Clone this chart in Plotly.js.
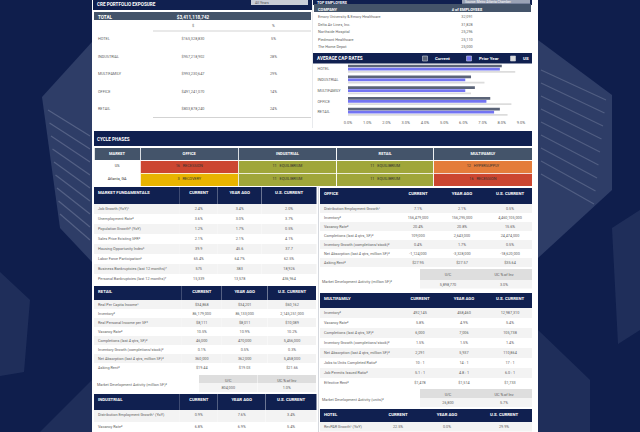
<!DOCTYPE html>
<html><head><meta charset="utf-8">
<script src="https://cdn.plot.ly/plotly-3.0.1.min.js"></script>
<style>
html,body{margin:0;padding:0;background:#0f1e4c;overflow:hidden;}
#wrap{width:640px;height:432px;overflow:hidden;position:relative;}
#c{width:1280px;height:864px;transform:scale(0.5);transform-origin:0 0;}
#err{position:absolute;left:0;top:200px;color:red;font:12px monospace;z-index:9;}
</style>
</head><body><div id="wrap"><div id="c"></div></div><div id="err"></div><script>
window.onerror=function(m){document.getElementById('err').textContent+=' ERR: '+m;};
// ---------- DATA ----------
const capCategories = ["HOTEL","INDUSTRIAL","MULTIFAMILY","OFFICE","RETAIL"];
const capSeriesNames = ["Current","Prior Year","US"];
const capCurrent   = [8.0, 6.4, 6.6, 7.4, 7.9];
const capPriorYear = [7.9, 6.1, 6.1, 7.2, 7.6];
const capUS        = [8.7, 7.1, 6.4, 8.5, 8.3];
const capTicks     = [0,1,2,3,4,5,6,7,8,9];
const capTickLabels= ["0.0%","1.0%","2.0%","3.0%","4.0%","5.0%","6.0%","7.0%","8.0%","9.0%"];

const exposureTotal   = "$3,411,118,742";
const exposureTypes   = ["HOTEL","INDUSTRIAL","MULTIFAMILY","OFFICE","RETAIL"];
const exposureDollars = ["$165,328,830","$957,218,902","$993,230,647","$491,241,070","$803,878,240"];
const exposurePct     = ["5%","28%","29%","14%","24%"];

const employerNames = ["Emory University & Emory Healthcare","Delta Air Lines, Inc.","Northside Hospital","Piedmont Healthcare","The Home Depot"];
const employerCounts = ["32,091","31,828","25,296","25,110","25,000"];

const cycleColumns = ["MARKET","OFFICE","INDUSTRIAL","RETAIL","MULTIFAMILY"];
const cycleMarkets = ["US","Atlanta, GA"];
const cycleOffice = ["16   RECESSION","3   RECOVERY"];
const cycleIndustrial = ["11   EQUILIBRIUM","11   EQUILIBRIUM"];
const cycleRetail = ["11   EQUILIBRIUM","11   EQUILIBRIUM"];
const cycleMultifamily = ["12   HYPERSUPPLY","16   RECESSION"];

const valueHeads = ["CURRENT","YEAR AGO","U.S. CURRENT"];

const mfLabels = ["Job Growth (YoY)¹","Unemployment Rate²","Population Growth³ (YoY)","Sales Price Existing SFR⁴","Housing Opportunity Index⁵","Labor Force Participation⁶","Business Bankruptcies (last 12 months)⁷","Personal Bankruptcies (last 12 months)⁷"];
const mfCurrent = ["2.4%","3.6%","1.2%","2.1%","39.9","65.4%","575","15,339"];
const mfYearAgo = ["3.4%","3.0%","1.7%","2.1%","45.6","64.7%","383","13,578"];
const mfUS      = ["2.0%","3.7%","0.5%","4.1%","37.7","62.5%","18,926","436,964"];

const retailLabels = ["Real Per Capita Income¹","Inventory²","Real Personal Income per SF³","Vacancy Rate²","Completions (last 4 qtrs, SF)²","Inventory Growth (completions/stock)²","Net Absorption (last 4 qtrs, million SF)²","Asking Rent²"];
const retailCurrent = ["$34,868","86,179,000","$8,111","10.5%","46,000","0.1%","360,000","$19.44"];
const retailYearAgo = ["$34,201","86,133,000","$8,011","10.9%","470,000","0.5%","362,000","$19.03"];
const retailUS      = ["$60,162","2,145,251,000","$10,089","10.2%","5,456,000","0.3%","5,458,000","$21.66"];
const retailMDA = ["804,000","1.0%"];

const indLabels = ["Distribution Employment Growth¹ (YoY)","Vacancy Rate²"];
const indCurrent = ["0.9%","6.8%"];
const indYearAgo = ["7.6%","6.9%"];
const indUS = ["3.4%","5.4%"];

const offLabels = ["Distribution Employment Growth¹","Inventory²","Vacancy Rate²","Completions (last 4 qtrs, SF)²","Inventory Growth (completions/stock)²","Net Absorption (last 4 qtrs, million SF)²","Asking Rent²"];
const offCurrent = ["7.1%","156,479,000","20.4%","109,000","0.4%","-1,124,000","$27.95"];
const offYearAgo = ["2.1%","156,295,000","20.8%","2,643,000","1.7%","-3,328,000","$27.57"];
const offUS      = ["0.5%","4,460,105,000","15.6%","24,474,000","0.5%","-18,620,000","$35.64"];
const offMDA = ["5,898,770","3.0%"];

const mfamLabels = ["Inventory²","Vacancy Rate²","Completions (last 4 qtrs, SF)²","Inventory Growth (completions/stock)²","Net Absorption (last 4 qtrs, million SF)²","Jobs to Units Completed Ratio²","Job Permits Issued Ratio²","Effective Rent²"];
const mfamCurrent = ["492,145","5.8%","6,000","1.5%","2,291","10 : 1","5.1 : 1","$1,478"];
const mfamYearAgo = ["458,460","4.9%","7,006","1.5%","5,937","14 : 1","4.8 : 1","$1,514"];
const mfamUS      = ["12,987,310","5.4%","105,738","1.4%","110,864","17 : 1","6.0 : 1","$1,733"];
const mfamMDA = ["26,800","5.7%"];

const hotelLabels = ["RevPAR Growth¹ (YoY)"];
const hotelCurrent = ["22.5%"];
const hotelYearAgo = ["0.0%"];
const hotelUS = ["29.9%"];

const mdaHeads = ["U/C","UC % of Inv"];

// ---------- HELPERS ----------
const S=2, W=640, H=432;
const F='Roboto, "Open Sans", sans-serif';
const NAVY='#102050', SLATE='#44546a', TXT='#5f5f5f', BG='#0f1e4c';
const X=p=>p/W, Y=p=>Math.max(0,Math.min(1,1-p/H));
const dom=(x0,x1,y0,y1)=>({x:[X(x0),X(x1)],y:[Y(y1),Y(y0)]});
const alt=n=>Array.from({length:n},(_,i)=>i%2?'#ffffff':'#f3f3f3');
const nb=s=>String(s).replace(/ /g,'\u00a0');

function table(x0,x1,y0,y1,o){
  return {type:'table',domain:dom(x0,x1,y0,y1),columnwidth:o.cw,
    header:{values:o.hv.map(nb),height:o.hh*S,fill:{color:o.hfill},
      line:{color:o.hline||'rgba(0,0,0,0)',width:(o.hlw||0)*S},align:o.halign,
      font:{family:F,size:(o.hfs||4.3)*S,color:o.hfc||'#ffffff',weight:o.hw||'bold'}},
    cells:{values:o.cv.map(c=>c.map(nb)),height:o.ch*S,fill:{color:o.cfill||'#ffffff'},
      line:{color:o.cline||'rgba(0,0,0,0)',width:(o.clw||0)*S},align:o.calign,
      font:{family:F,size:(o.cfs||3.8)*S,color:o.cfc||TXT}}};
}
function dataTable(x0,x1,y0,y1,title,labels,c1,c2,c3,cw,hh,ch){
  const f=alt(labels.length);
  return table(x0,x1,y0,y1,{cw:cw,hv:[title].concat(valueHeads),hh:hh,hfill:NAVY,
    halign:['left','center','center','center'],hfs:4.3,
    cv:[labels,c1,c2,c3],ch:ch,cfill:[f,f,f,f],calign:['left','center','center','center']});
}
function mdaTable(x0,x1,y0,y1,vals,hh,ch){
  return table(x0,x1,y0,y1,{cw:[1,1],hv:mdaHeads,hh:hh,hfill:'#dedede',hfc:'#555',hfs:3.8,hw:'normal',
    halign:['center','center'],cv:[[vals[0]],[vals[1]]],ch:ch,cfill:['#f4f4f4','#f4f4f4'],
    calign:['center','center'],cfs:3.8});
}

const traces=[];
// exposure
traces.push(table(94,311,11.5,21,{cw:[56,86,75],hv:['TOTAL',exposureTotal,''],hh:8.5,hfill:SLATE,
  halign:['left','center','center'],hfs:4.6,cv:[[''],[''],['']],ch:1,cfill:'rgba(0,0,0,0)',calign:['left','center','center']}));
traces.push(table(94,311,20.5,122,{cw:[56,86,75],hv:['','$','%'],hh:13,hfill:'rgba(0,0,0,0)',hfc:TXT,hfs:3.8,hw:'normal',
  halign:['left','center','center'],cv:[exposureTypes,exposureDollars,exposurePct],ch:17.5,cfill:'rgba(0,0,0,0)',
  calign:['left','center','center']}));
// employers (first row on its own table so its taller markup row cannot push the others)
traces.push(table(314,531,4,19,{cw:[128,50,39],hv:['COMPANY','# of EMPLOYEES',''],hh:7.5,hfill:SLATE,hfs:4,
  halign:['left','center','center'],cv:[[employerNames[0]],[employerCounts[0]],['']],ch:7.5,
  calign:['left','center','center']}));
traces.push(table(314,531,19,50,{cw:[128,50,39],hv:[employerNames[1],employerCounts[1],''],hh:7.5,hfill:'#ffffff',
  hfc:TXT,hfs:3.8,hw:'normal',halign:['left','center','center'],
  cv:[employerNames.slice(2),employerCounts.slice(2),employerNames.slice(2).map(()=>'')],ch:7.5,
  calign:['left','center','center']}));
// cycle phases
const RED='#cc4630',OLV='#a0a63a',ORG='#e47c3a',YEL='#e8b400';
traces.push(table(94,532,147.5,187,{cw:[46,98,98,97,98],hv:cycleColumns,hh:12.5,hfill:SLATE,hline:'#ffffff',hlw:0.8,
  halign:'center',hfs:4,cv:[cycleMarkets,cycleOffice,cycleIndustrial,cycleRetail,cycleMultifamily],ch:13,
  cfill:[['#ffffff','#ffffff'],[RED,YEL],[OLV,OLV],[OLV,OLV],[ORG,RED]],cline:'#ffffff',clw:0.8,
  calign:'center',cfc:'#333333',cfs:3.8}));
// left column
traces.push(dataTable(94,317,187,284,'MARKET FUNDAMENTALS',mfLabels,mfCurrent,mfYearAgo,mfUS,[86,38,44,55],16.5,10));
traces.push(dataTable(94,317,286,372,'RETAIL',retailLabels,retailCurrent,retailYearAgo,retailUS,[88,40,46,49],13.5,9));
traces.push(mdaTable(199,316,375,392,retailMDA,7.5,9));
traces.push(dataTable(94,317,394,432,'INDUSTRIAL',indLabels,indCurrent,indYearAgo,indUS,[86,38,48,51],15.5,12));
// right column
traces.push(dataTable(320,532,188,267,'OFFICE',offLabels,offCurrent,offYearAgo,offUS,[80,36,52,44],15.5,9));
traces.push(mdaTable(420,532,269,289,offMDA,10.5,9));
traces.push(dataTable(320,532,293,388,'MULTIFAMILY',mfamLabels,mfamCurrent,mfamYearAgo,mfamUS,[80,40,48,44],14.5,10));
traces.push(mdaTable(420,532,389,407,mfamMDA,8.5,9));
traces.push(dataTable(320,532,409,432,'HOTEL',hotelLabels,hotelCurrent,hotelYearAgo,hotelUS,[58,40,58,56],12.5,12));

// cap rate bars
const capColors=['#5b6478','#7374f2','#dcdcdc'];
const capVals=[capCurrent,capPriorYear,capUS];
const offs=[-0.40,-0.12,0.18], wid=[0.25,0.25,0.16];
capVals.forEach((v,i)=>{
  traces.push({type:'bar',orientation:'h',x:v,y:capCategories,name:capSeriesNames[i],
    marker:{color:capColors[i]},offset:offs[i],width:wid[i],showlegend:false,hoverinfo:'skip'});
  traces.push({type:'scatter',mode:'markers',x:[null],y:[null],name:capSeriesNames[i],
    marker:{symbol:'square',size:5*S,color:capColors[i],line:{color:'#c8ccd6',width:0.6*S}},
    legend:i===0?'legend':'legend'+(i+1)});
});

// ---------- SHAPES ----------
const P=(pts)=>'M'+pts.map(p=>(p[0]/W)+','+(1-p[1]/H)).join('L')+'Z';
const shapes=[];
const deco=[
  [[92,42],[42,97],[60,228],[92,262]],
  [[0,272],[30,300],[24,372],[0,376]],
  [[92,380],[40,432],[92,432]],
  [[538,40],[612,95],[612,190],[538,258]],
  [[612,228],[640,210],[640,330],[618,344]],
  [[538,330],[590,380],[590,432],[538,432]]
];
deco.forEach((d,i)=>shapes.push({type:'path',xref:'paper',yref:'paper',path:P(d),
  fillcolor:i%3===0?'rgba(170,185,215,0.2)':'rgba(150,165,200,0.12)',line:{width:0},layer:'below'}));
for(let k=0;k<9;k++){
  const y=110+k*13;
  shapes.push({type:'line',xref:'paper',yref:'paper',x0:X(48+k*1.5),y0:1-y/H,x1:X(90),y1:1-(y+26)/H,
    line:{color:'rgba(220,225,240,0.22)',width:1.2*S},layer:'below'});
  shapes.push({type:'line',xref:'paper',yref:'paper',x0:X(541),y0:1-(y-40)/H,x1:X(606-k*1.5),y1:1-(y-10)/H,
    line:{color:'rgba(220,225,240,0.2)',width:1.2*S},layer:'below'});
}
shapes.push({type:'rect',xref:'paper',yref:'paper',x0:X(92),x1:X(538),y0:0,y1:1,fillcolor:'#ffffff',line:{width:0},layer:'below'});
const bar=(x0,x1,y0,y1,c)=>shapes.push({type:'rect',xref:'paper',yref:'paper',x0:X(x0),x1:X(x1),y0:Y(y1),y1:Y(y0),fillcolor:c,line:{width:0},layer:'below'});
bar(93,312,0,10,NAVY);
bar(313,532,0,5,NAVY);
bar(313,532,53,63.5,NAVY);
bar(94,532,131,146,NAVY);
bar(251,308,0,5,'#c9ced8');
bar(462,530,0,3.8,'#9aa3b5');
const rule=(x0,x1,y0,y1,c,w)=>shapes.push({type:'line',xref:'paper',yref:'paper',x0:X(x0),x1:X(x1),y0:Y(y0),y1:Y(y1),line:{color:c,width:w*S},layer:'below'});
rule(153,311,31,31,'#c8c8c8',0.8);
rule(153,311,117.5,117.5,'#c8c8c8',0.8);
rule(318.5,318.5,187,432,'#d5d8de',1);
rule(312.5,312.5,0,128,'#e2e4e8',0.8);

// ---------- ANNOTATIONS ----------
const ann=(x,y,t,o={})=>({xref:'paper',yref:'paper',x:X(x),y:Y(y),text:t,showarrow:false,xanchor:o.xa||'left',yanchor:'middle',
  font:{family:F,size:(o.s||5)*S,color:o.c||'#ffffff',weight:o.w||'normal'}});
const annotations=[
  ann(96,4.5,'CRE PORTFOLIO EXPOSURE',{s:4.6,w:'bold'}),
  ann(254,2.6,'All Years',{s:3.6,c:'#555'}),
  ann(316,2.6,'TOP EMPLOYERS',{s:3.8,w:'bold'}),
  ann(464,2,'Source: Metro Atlanta Chamber',{s:3.3,c:'#ffffff'}),
  ann(316,58.5,'AVERAGE CAP RATES',{s:4.6,w:'bold'}),
  ann(96,138.5,'CYCLE PHASES',{s:4.6,w:'bold'}),
  ann(96,384,'Market Development Activity (million SF)²',{s:3.8,c:TXT}),
  ann(321,281,'Market Development Activity (million SF)²',{s:3.8,c:TXT}),
  ann(321,399,'Market Development Activity (units)²',{s:3.8,c:TXT})
];

const legBase={orientation:'h',yanchor:'middle',xanchor:'left',bgcolor:'rgba(0,0,0,0)',borderwidth:0,
  font:{family:F,size:4.4*S,color:'#ffffff',weight:'bold'},itemwidth:30,tracegroupgap:0};

const layout={
  width:W*S,height:H*S,margin:{l:0,r:0,t:0,b:0},paper_bgcolor:BG,plot_bgcolor:'rgba(0,0,0,0)',
  font:{family:F},
  xaxis:{domain:[X(316),X(528)],range:[-1.665,9.364],tickvals:capTicks,ticktext:capTickLabels,
    showgrid:false,zeroline:false,showline:false,tickfont:{size:4*S,color:TXT},ticks:'',anchor:'y',ticklabelstandoff:2*S},
  yaxis:{domain:[Y(117.4),Y(63.6)],type:'category',autorange:'reversed',ticklabelposition:'inside',
    showgrid:false,zeroline:false,showline:false,tickfont:{size:3.8*S,color:TXT},ticks:'',anchor:'x'},
  bargap:0.2,
  legend:Object.assign({},legBase,{x:X(415),y:Y(58.5)}),
  legend2:Object.assign({},legBase,{x:X(459),y:Y(58.5)}),
  legend3:Object.assign({},legBase,{x:X(503),y:Y(58.5)}),
  shapes:shapes,annotations:annotations
};
Plotly.newPlot('c',traces,layout,{staticPlot:true,displayModeBar:false}).catch(e=>{document.getElementById('err').textContent+=' ERR: '+e;});
</script></body></html>
